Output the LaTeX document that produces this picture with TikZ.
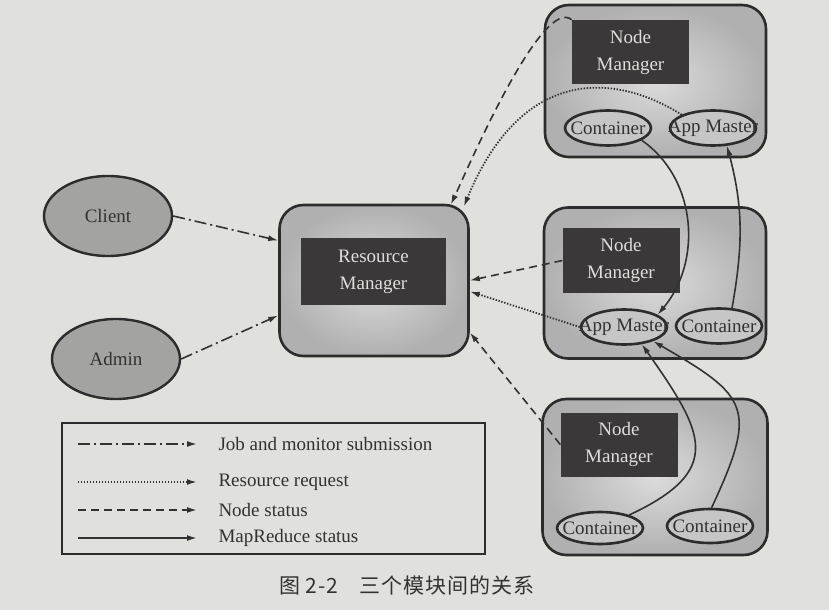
\documentclass[tikz,border=0pt]{standalone}
\usepackage{fontspec}
\setmainfont{Liberation Serif}
\newfontfamily\cjk[LetterSpace=5]{Noto Sans CJK SC}
\usetikzlibrary{shapes.geometric, arrows.meta}
\definecolor{paper}{RGB}{224,224,221}
\definecolor{edge}{RGB}{45,44,44}
\definecolor{darkbox}{RGB}{58,56,56}
\definecolor{lighttext}{RGB}{222,222,220}
\definecolor{userfill}{RGB}{163,163,161}
\definecolor{ink}{RGB}{50,50,50}
\newcommand{\elltext}[1]{\makebox[0pt]{#1}}

\begin{document}
\begin{tikzpicture}[x=1bp, y=-1bp,
    every node/.style={font=\fontsize{19bp}{27bp}\selectfont, text=ink},
    outer/.style={draw=edge, line width=2.6bp, rounded corners=24bp, shading=radial, inner color=gray!28, outer color=gray!62},
    inner/.style={fill=darkbox, text=lighttext, align=center, inner sep=0pt, minimum width=117bp, minimum height=64bp},
    cont/.style={ellipse, draw=edge, line width=2.6bp, fill=gray!45, minimum width=86bp, minimum height=35bp, inner sep=0pt},
    user/.style={ellipse, draw=edge, line width=2.4bp, fill=userfill, minimum width=128bp, minimum height=80bp},
    link/.style={draw=ink, line width=1.6bp, -{Latex[length=10bp,width=6bp]}},
    job/.style={link, dash pattern=on 12bp off 4bp on 2bp off 4bp},
    req/.style={link, line width=1.8bp, dash pattern=on 1.4bp off 1.6bp},
    stat/.style={link, dash pattern=on 8bp off 5bp},
    mr/.style={link}
    ]
\path[use as bounding box, fill=paper] (0,0) rectangle (829,610);

% node managers
\node[outer, minimum width=221bp, minimum height=152bp] (nm1box) at (655.5,81) {};
\node[outer, minimum width=222bp, minimum height=151bp] (nm2box) at (655,283) {};
\node[outer, minimum width=225bp, minimum height=156bp] (nm3box) at (655,477) {};
\node[inner] (nm1) at (630.5,52) {Node\\Manager};
\node[inner] (nm2) at (621,260.5) {Node\\Manager};
\node[inner] (nm3) at (619,444.5) {Node\\Manager};

\node[cont] (c1) at (608,128) {\elltext{Container}};
\node[cont] (am1) at (713,128) {\elltext{App Master}};
\node[cont] (am2) at (624,327) {\elltext{App Master}};
\node[cont] (c2) at (719,326) {\elltext{Container}};
\node[cont, minimum height=32bp] (c3) at (600,528) {\elltext{Container}};
\node[cont, minimum height=34bp] (c4) at (710,526) {\elltext{Container}};

% resource manager
\node[outer, minimum width=189bp, minimum height=151bp] (rmbox) at (374,280.5) {};
\node[inner, minimum width=145bp, minimum height=67bp] (rm) at (373.5,271.5) {Resource\\Manager};

\node[user] (client) at (108,216) {Client};
\node[user] (admin) at (116,359) {Admin};

% connectors
\draw[job] (client.east) -- ([yshift=40bp]rmbox.west);
\draw[job] (admin.east) -- ([yshift=-35bp]rmbox.west);

\draw[stat] (nm1.north west) to[out=140, in=65, looseness=0.45] ([xshift=-19bp,yshift=-1bp]rmbox.north east);
\draw[req] (am1.north west) .. controls (610,70) and (520,70) .. ([xshift=-6bp,yshift=-3bp]rmbox.north east);
\draw[stat] (nm2.west) -- (rmbox.east);
\draw[req] (am2.west) -- ([yshift=-11bp]rmbox.east);
\draw[stat] (nm3.west) -- ([yshift=-52bp]rmbox.east);

\draw[mr] (c1.-20) to[out=-35, in=50] (am2.20);
\draw[mr] (c2.54) to[out=80, in=-75] (am1.-52);
\draw[mr] (c3.24) to[out=25, in=-55, looseness=1.6] (am2.-44);
\draw[mr] (c4.85) to[out=65, in=-30, looseness=1.6] (am2.-26);

% legend
\node[draw=edge, line width=2bp, minimum width=423bp, minimum height=131bp] (legend) at (273.5,488.5) {};
\node[anchor=west] (l1) at (215,444) {Job and monitor submission};
\node[anchor=west] (l2) at (215,482) {Resource request};
\node[anchor=west] (l3) at (215,510) {Node status};
\node[anchor=west] (l4) at (215,538) {MapReduce status};
\coordinate (s1) at (78,444);
\coordinate (s2) at (78,482);
\coordinate (s3) at (78,510);
\coordinate (s4) at (78,538);
\draw[job] (s1) -- ([xshift=-18bp]l1.west);
\draw[req] (s2) -- ([xshift=-18bp]l2.west);
\draw[stat] (s3) -- ([xshift=-18bp]l3.west);
\draw[mr] (s4) -- ([xshift=-18bp]l4.west);

\node[font=\cjk\fontsize{21bp}{25bp}\selectfont] (caption) at (407,585) {图 2-2\quad 三个模块间的关系};
\end{tikzpicture}
\end{document}
